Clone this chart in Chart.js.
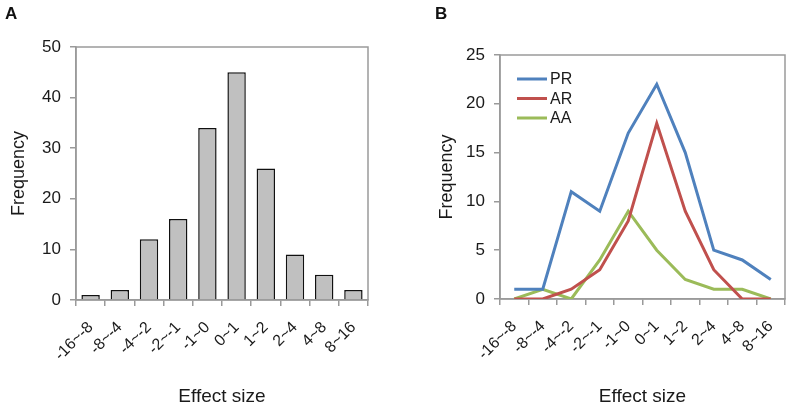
<!DOCTYPE html>
<html>
<head>
<meta charset="utf-8">
<script src="https://cdn.jsdelivr.net/npm/chart.js@4.4.1/dist/chart.umd.min.js"></script>
<style>
  html, body { margin: 0; padding: 0; background: #fff; }
  body { width: 790px; height: 411px; position: relative; overflow: hidden; font-family: "Liberation Sans", Arial, sans-serif; }
  .panel { position: absolute; top: 0; width: 395px; height: 411px; }
  .tag { position: absolute; font-weight: bold; font-size: 17px; color: #111; }
</style>
</head>
<body>
<div class="panel" style="left:0"><canvas id="chart-a"></canvas></div>
<div class="panel" style="left:395px"><canvas id="chart-b"></canvas></div>
<div class="tag" style="left:5px; top:4px">A</div>
<div class="tag" style="left:435px; top:4px">B</div>
<script>
const bins = ['-16~-8', '-8~-4', '-4~-2', '-2~-1', '-1~0', '0~1', '1~2', '2~4', '4~8', '8~16'];
const totalFreq = [1, 2, 12, 16, 34, 45, 26, 9, 5, 2];
const prFreq = [1, 1, 11, 9, 17, 22, 15, 5, 4, 2];
const arFreq = [0, 0, 1, 3, 8, 18, 9, 3, 0, 0];
const aaFreq = [0, 1, 0, 4, 9, 5, 2, 1, 1, 0];
const yTicksA = [0, 10, 20, 30, 40, 50];
const yTicksB = [0, 5, 10, 15, 20, 25];

const FONT = '"Liberation Sans", Arial, sans-serif';
const AXIS = '#9a9a9a';
const TEXT = '#1a1a1a';

// gray box round the plot area, like the Excel original
const framePlugin = {
  id: 'frame',
  beforeDatasetsDraw(chart) {
    const { ctx, chartArea: a } = chart;
    ctx.save();
    ctx.strokeStyle = AXIS;
    ctx.lineWidth = 1.5;
    ctx.strokeRect(a.left, a.top, a.right - a.left, a.bottom - a.top);
    ctx.restore();
  },
};

// legend drawn inside the plot, top-left
const insideLegend = {
  id: 'insideLegend',
  afterDraw(chart) {
    const { ctx, chartArea: a } = chart;
    ctx.save();
    ctx.font = '16px ' + FONT;
    ctx.textBaseline = 'middle';
    chart.data.datasets.forEach((ds, i) => {
      const y = a.top + 24 + i * 19.5;
      ctx.strokeStyle = ds.borderColor;
      ctx.lineWidth = 3;
      ctx.beginPath();
      ctx.moveTo(a.left + 17, y);
      ctx.lineTo(a.left + 47, y);
      ctx.stroke();
      ctx.fillStyle = TEXT;
      ctx.fillText(ds.label, a.left + 50, y + 1);
    });
    ctx.restore();
  },
};

function xScale(height) {
  return {
    offset: true,
    grid: { offset: true, drawOnChartArea: false, drawTicks: true, tickLength: 6, color: AXIS, lineWidth: 1.5 },
    border: { color: AXIS, width: 1.5 },
    ticks: { color: TEXT, font: { size: 16, family: FONT }, minRotation: 45, maxRotation: 45, autoSkip: false, padding: 12 },
    title: { display: true, text: 'Effect size', color: TEXT, font: { size: 19, family: FONT }, padding: { top: 0, bottom: 3 } },
    afterFit: (s) => {
      s.height = height;
      // keep the plot width fixed; layout padding handles the margins
      s.paddingLeft = 0;
      s.paddingRight = 0;
    },
  };
}

function yScale(max, step, width, ticks) {
  return {
    min: 0,
    max: max,
    afterBuildTicks: (s) => { s.ticks = ticks.map((v) => ({ value: v })); },
    grid: { drawOnChartArea: false, drawTicks: true, tickLength: 6, color: AXIS, lineWidth: 1.5 },
    border: { color: AXIS, width: 1.5 },
    ticks: { color: TEXT, font: { size: 17, family: FONT }, padding: 9, stepSize: step },
    title: { display: true, text: 'Frequency', color: TEXT, font: { size: 18, family: FONT }, padding: { top: 4, bottom: 0 } },
    afterFit: (s) => {
      s.width = width;
      s.paddingTop = 0;
      s.paddingBottom = 0;
    },
  };
}

new Chart(document.getElementById('chart-a'), {
  type: 'bar',
  data: {
    labels: bins,
    datasets: [{
      label: 'Frequency',
      data: totalFreq,
      backgroundColor: '#c0c0c0',
      borderColor: '#111',
      borderWidth: 1.5,
      borderSkipped: 'bottom',
      categoryPercentage: 1,
      barPercentage: 0.63,
    }],
  },
  options: {
    responsive: true,
    maintainAspectRatio: false,
    animation: false,
    layout: { padding: { left: 4, top: 47, right: 27, bottom: 0 } },
    scales: {
      x: xScale(111),
      y: yScale(50, 10, 72, yTicksA),
    },
    plugins: { legend: { display: false }, tooltip: { enabled: false } },
  },
  plugins: [framePlugin],
});

new Chart(document.getElementById('chart-b'), {
  type: 'line',
  data: {
    labels: bins,
    datasets: [
      { label: 'PR', data: prFreq, borderColor: '#4f81bd' },
      { label: 'AR', data: arFreq, borderColor: '#c0504d' },
      { label: 'AA', data: aaFreq, borderColor: '#9bbb59' },
    ].map((d) => Object.assign(d, { borderWidth: 3, pointRadius: 0, tension: 0, fill: false })),
  },
  options: {
    responsive: true,
    maintainAspectRatio: false,
    animation: false,
    layout: { padding: { left: 37, top: 55, right: 5, bottom: 0 } },
    scales: {
      x: xScale(112),
      y: yScale(25, 5, 68, yTicksB),
    },
    plugins: { legend: { display: false }, tooltip: { enabled: false } },
  },
  plugins: [framePlugin, insideLegend],
});
</script>
</body>
</html>
